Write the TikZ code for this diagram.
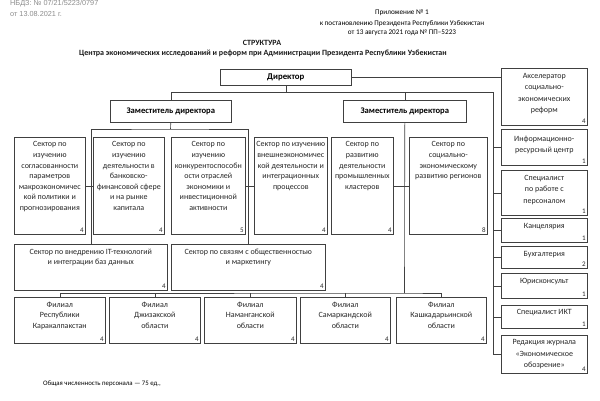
\documentclass[tikz,border=0pt]{standalone}
\usepackage{fontspec}
\setmainfont{Carlito}
\newfontfamily\hdrfont{Liberation Sans}
\newcommand\mybox[8][-4.5pt]{%
  \node[bx,minimum width=#5pt,minimum height=#6pt] (#2) at (#3,#4) {};
  \node[tx] at ([yshift=#1]#2.north) {#7};
  \node[nm] at (#2.south east) {#8};}
\begin{document}
\begin{tikzpicture}[x=1pt,y=-1pt,
  bx/.style={draw=black!75,line width=0.6pt,inner sep=0pt,anchor=north west},
  tx/.style={anchor=north,align=center,inner sep=0pt,font=\fontsize{8}{10.6}\selectfont,text=black!85},
  rtx/.style={font=\fontsize{8}{11.5}\selectfont},
  nm/.style={anchor=south east,inner sep=1.8pt,font=\fontsize{7}{8}\selectfont,text=black!85},
  hd/.style={inner sep=0pt,font=\fontsize{8}{9}\selectfont\bfseries,text=black!90},
  ln/.style={draw=black!75,line width=0.6pt}]
\useasboundingbox (0,0) rectangle (600,400);
% header
\node[anchor=west,inner sep=0pt,text=black!45,font=\hdrfont\fontsize{7.3}{8}\selectfont] (h1) at (10,4) {НБДЗ: № 07/21/5223/0797};
\node[anchor=west,inner sep=0pt,text=black!45,font=\hdrfont\fontsize{7.3}{8}\selectfont] (h2) at (10,14) {от 13.08.2021 г.};
\node[inner sep=0pt,font=\fontsize{7.2}{8}\selectfont] (p1) at (402,13) {Приложение № 1};
\node[inner sep=0pt,font=\fontsize{7.2}{8}\selectfont] (p2) at (402,23.5) {к постановлению Президента Республики Узбекистан};
\node[inner sep=0pt,font=\fontsize{7.2}{8}\selectfont] (p3) at (402,33) {от 13 августа 2021 года № ПП–5223};
\node[hd] (t1) at (262,43) {СТРУКТУРА};
\node[hd] (t2) at (263,53) {Центра экономических исследований и реформ при Администрации Президента Республики Узбекистан};
% top
\node[bx,minimum width=131pt,minimum height=16pt,font=\fontsize{8.8}{10}\selectfont\bfseries] (dir) at (220,69) {Директор};
\node[bx,minimum width=121pt,minimum height=22pt,font=\fontsize{8.6}{10}\selectfont\bfseries] (dep1) at (110,100) {Заместитель директора};
\node[bx,minimum width=123pt,minimum height=22pt,font=\fontsize{8.6}{10}\selectfont\bfseries] (dep2) at (343,100) {Заместитель директора};
% right column
\tikzset{tx/.append style={rtx}}
\mybox[-5pt]{acc}{501}{68}{86}{57}{Акселератор\\социально-\\экономических\\реформ}{4}
\mybox[-6.5pt]{r2}{501}{129}{86}{36}{Информационно-\\ресурсный центр}{1}
\mybox[-5pt]{r3}{501}{170}{86}{45}{Специалист\\по работе с\\персоналом}{1}
\mybox[-5.5pt]{r4}{501}{218}{86}{24}{Канцелярия}{1}
\mybox[-5pt]{r5}{501}{246}{86}{22}{Бухгалтерия}{2}
\mybox[-5pt]{r6}{501}{273}{86}{25}{Юрисконсульт}{1}
\mybox[-4.5pt]{r7}{501}{305}{86}{23}{Специалист ИКТ}{1}
\mybox[-4.5pt]{r8}{501}{335}{86}{38}{Редакция журнала\\«Экономическое\\обозрение»}{4}
\tikzset{tx/.append style={font=\fontsize{8}{10.6}\selectfont}}
% sectors
\mybox{sA}{14}{137}{71}{97}{Сектор по\\изучению\\согласованности\\параметров\\макроэкономичес\\кой политики и\\прогнозирования}{4}
\mybox{sB}{93}{137}{71}{97}{Сектор по\\изучению\\деятельности в\\банковско-\\финансовой сфере\\и на рынке\\капитала}{4}
\mybox{sC}{171}{137}{74}{97}{Сектор по\\изучению\\конкурентоспособн\\ости отраслей\\экономики и\\инвестиционной\\активности}{5}
\mybox{sD}{254}{137}{73}{97}{Сектор по изучению\\внешнеэкономичес\\кой деятельности и\\интеграционных\\процессов}{4}
\mybox{sE}{331}{137}{62}{97}{Сектор по\\развитию\\деятельности\\промышленных\\кластеров}{4}
\mybox{sF}{409}{137}{78}{97}{Сектор по\\социально-\\экономическому\\развитию регионов}{8}
\mybox{it}{14}{244}{153}{46}{Сектор по внедрению IT-технологий\\и интеграции баз данных}{4}
\mybox{pr}{171}{244}{154}{46}{Сектор по связям с общественностью\\и маркетингу}{4}
% branches
\mybox{b1}{14}{297}{91}{46}{Филиал\\Республики\\Каракалпакстан}{4}
\mybox{b2}{109}{297}{91}{46}{Филиал\\Джизакской\\области}{4}
\mybox{b3}{204}{297}{92}{46}{Филиал\\Наманганской\\области}{4}
\mybox{b4}{300}{297}{90}{46}{Филиал\\Самаркандской\\области}{4}
\mybox{b5}{396}{297}{90}{46}{Филиал\\Кашкадарьинской\\области}{4}
% footer
\node[anchor=west,inner sep=0pt,font=\fontsize{6.8}{8}\selectfont] (ft) at (43,384) {Общая численность персонала — 75 ед.,};
% connectors
\coordinate (rb1) at (493,92);
\coordinate (rb2) at (493,354);
\coordinate (h1) at (170.5,129);
\coordinate (bb) at (404.5,293);
\draw[ln] (dir.east) -- (dir.east -| acc.west);
\draw[ln] (dir.south) -- (dir.south |- rb1);
\draw[ln] (dep1.north) |- (rb1) -- (rb2);
\draw[ln] (dep2.north) -- (dep2.north |- rb1);
\foreach \r in {r2,r3,r4,r5,r6,r7,r8}{\draw[ln] (rb1 |- \r.west) -- (\r.west);}
\draw[ln] (dep1.south) -- (h1);
\draw[ln] (it.north) |- (h1) -| (pr.north);
\draw[ln] (sA.east) -- (sB.west);
\draw[ln] (sC.east) -- (sD.west);
\draw[ln] (dep2.south) -- (bb);
\draw[ln] (sE.east) -- (sE.east -| bb);
\draw[ln] (sF.west) -- (sF.west -| bb);
\draw[ln] (b1.north) |- (bb) -| (b5.north);
\foreach \b in {b2,b3,b4}{\draw[ln] (\b.north) -- (\b.north |- bb);}
\end{tikzpicture}
\end{document}
